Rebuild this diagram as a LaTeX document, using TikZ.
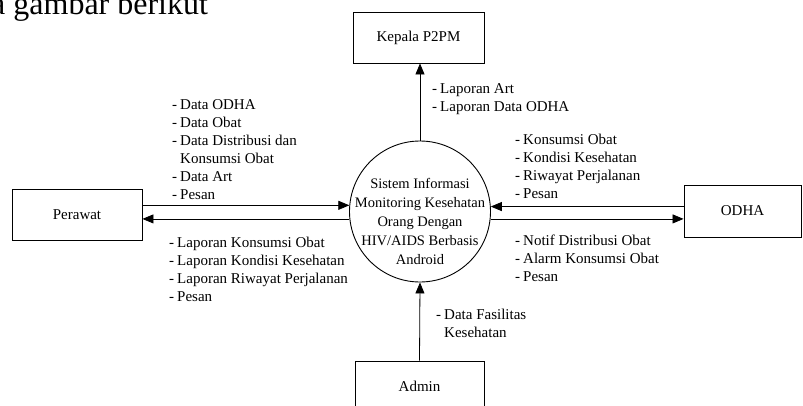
\documentclass[tikz,border=0pt]{standalone}
\usepackage{fontspec}
\setmainfont{Liberation Serif}
\usetikzlibrary{arrows.meta}
\begin{document}
\begin{tikzpicture}[x=1pt,y=-1pt,
  entity/.style={draw, line width=0.9pt, inner sep=0pt, minimum height=51pt,
    font=\fontsize{15}{18}\selectfont},
  process/.style={draw, circle, line width=0.9pt, minimum size=141pt, inner sep=0pt},
  flow/.style={line width=0.8pt, -{Triangle[length=11pt,width=9pt]}},
  lbl/.style={anchor=base west, inner sep=0pt, font=\fontsize{15}{18}\selectfont}]
\useasboundingbox (0,0) rectangle (803,405);
\clip (0,0) rectangle (803,405);

% running text above the diagram
\node[anchor=base west, inner sep=0pt, font=\fontsize{32}{36}\selectfont] (title) at (-9,14) {a gambar berikut};

% central process
\node[process] (sys) at (420,211.5) {};
\node[align=center, inner sep=0pt, font=\fontsize{14.5}{19}\selectfont] (systext) at (420,221)
  {Sistem Informasi\\Monitoring Kesehatan\\Orang Dengan\\HIV/AIDS Berbasis\\Android};

% external entities
\node[entity, minimum width=131pt] (kepala) at (418.5,37.5) {Kepala P2PM};
\node[entity, minimum width=130pt] (perawat) at (77,214.5) {Perawat};
\node[entity, minimum width=117pt, minimum height=52pt] (odha) at (742.5,211) {ODHA};
\node[entity, minimum width=129pt] (admin) at (419.5,386.5) {Admin};

% data flows
\draw[flow] (sys.north) -- (sys.north |- kepala.south);
\draw[flow] (admin.north) -- (sys.south);
\draw[flow] (perawat.east |- sys.175.5) -- (sys.175.5);
\draw[flow] (sys.186.1) -- (perawat.east |- sys.186.1);
\draw[flow] (odha.west |- sys.4.5) -- (sys.4.5);
\draw[flow] (sys.-6.1) -- (odha.west |- sys.-6.1);

% flow labels
\node[lbl] (lkepala) at (432,93) {\begin{tabular}[t]{@{}l@{\hspace{3pt}}l@{}}
- & Laporan Art\\
- & Laporan Data ODHA
\end{tabular}};

\node[lbl] (lperawatin) at (172,109) {\begin{tabular}[t]{@{}l@{\hspace{3pt}}l@{}}
- & Data ODHA\\
- & Data Obat\\
- & Data Distribusi dan\\
  & Konsumsi Obat\\
- & Data Art\\
- & Pesan
\end{tabular}};

\node[lbl] (lperawatout) at (169,247) {\begin{tabular}[t]{@{}l@{\hspace{3pt}}l@{}}
- & Laporan Konsumsi Obat\\
- & Laporan Kondisi Kesehatan\\
- & Laporan Riwayat Perjalanan\\
- & Pesan
\end{tabular}};

\node[lbl] (lodhain) at (515,144) {\begin{tabular}[t]{@{}l@{\hspace{3pt}}l@{}}
- & Konsumsi Obat\\
- & Kondisi Kesehatan\\
- & Riwayat Perjalanan\\
- & Pesan
\end{tabular}};

\node[lbl] (lodhaout) at (515,245) {\begin{tabular}[t]{@{}l@{\hspace{3pt}}l@{}}
- & Notif Distribusi Obat\\
- & Alarm Konsumsi Obat\\
- & Pesan
\end{tabular}};

\node[lbl] (ladmin) at (436,319) {\begin{tabular}[t]{@{}l@{\hspace{3pt}}l@{}}
- & Data Fasilitas\\
  & Kesehatan
\end{tabular}};
\end{tikzpicture}
\end{document}
